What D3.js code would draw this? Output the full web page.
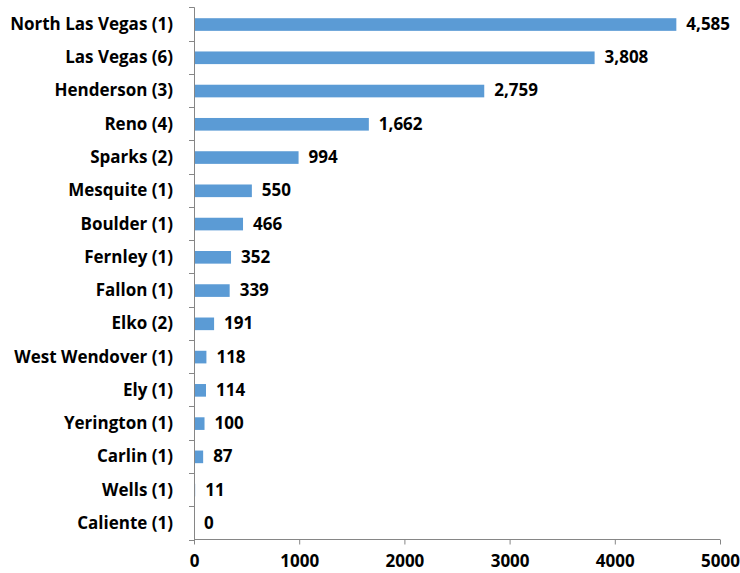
<!DOCTYPE html>
<html><head><meta charset="utf-8">
<script src="https://cdn.jsdelivr.net/npm/d3@7"></script>
<style>body{margin:0;background:#fff}</style>
</head><body>
<svg id="c" width="740" height="573"></svg>
<script>
const categories = ["North Las Vegas (1)","Las Vegas (6)","Henderson (3)","Reno (4)","Sparks (2)","Mesquite (1)","Boulder (1)","Fernley (1)","Fallon (1)","Elko (2)","West Wendover (1)","Ely (1)","Yerington (1)","Carlin (1)","Wells (1)","Caliente (1)"];
const values = [4585,3808,2759,1662,994,550,466,352,339,191,118,114,100,87,11,0];
const xTicks = [0,1000,2000,3000,4000,5000];

(function(){
const svg = d3.select("#c");
const font = "'Open Sans', sans-serif";
const fs = 17;
const pL = 194, pR = 720, pT = 7.4, pB = 539.5;
const x = d3.scaleLinear().domain([0,5000]).range([pL,pR]);
const y = d3.scaleBand().domain(categories).range([pT+0.5,pB+0.5]).paddingInner(0.62).paddingOuter(0.31);
const yb = d3.scaleBand().domain(categories).range([pT,pB]);
const axisColor = "#868686";

// bars
svg.append("g").selectAll("rect").data(values).join("rect")
  .attr("x", x(0)).attr("y",(d,i)=>y(categories[i]))
  .attr("width", d=>x(d)-x(0)).attr("height", y.bandwidth())
  .attr("fill","#5B9BD5");

// y axis
const gy = svg.append("g");
gy.append("line").attr("x1",pL+0.5).attr("x2",pL+0.5).attr("y1",pT).attr("y2",pB).attr("stroke",axisColor);
const bounds = categories.map(c=>yb(c)).concat([pB]);
gy.selectAll("line.t").data(bounds).join("line").attr("class","t")
  .attr("x1",pL-5).attr("x2",pL+0.5).attr("y1",d=>Math.round(d)+0.5).attr("y2",d=>Math.round(d)+0.5).attr("stroke",axisColor);
gy.selectAll("text").data(categories).join("text")
  .attr("x",pL-21).attr("y",c=>yb(c)+yb.bandwidth()/2).attr("dy","0.35em")
  .attr("text-anchor","end").attr("font-family",font).attr("font-weight","bold").attr("font-size",fs).attr("fill","#000")
  .text(c=>c);

// x axis
const gx = svg.append("g").attr("transform",`translate(0,${Math.round(pB)-0.5})`);
const xa = d3.axisBottom(x).tickValues(xTicks).tickSize(5).tickPadding(10).tickFormat(d3.format("d"));
gx.call(xa);
gx.select(".domain").attr("stroke",axisColor).attr("d",`M${pL},0H${pR}`);
gx.selectAll(".tick line").attr("stroke",axisColor);
gx.selectAll(".tick text").attr("font-family",font).attr("font-weight","bold").attr("font-size",fs).attr("fill","#000");

// value labels
svg.append("g").selectAll("text").data(values).join("text")
  .attr("x",d=>x(d)+10).attr("y",(d,i)=>yb(categories[i])+yb.bandwidth()/2).attr("dy","0.35em")
  .attr("font-family",font).attr("font-weight","bold").attr("font-size",fs).attr("fill","#000")
  .text(d=>d3.format(",")(d));
})();
</script>
</body></html>
